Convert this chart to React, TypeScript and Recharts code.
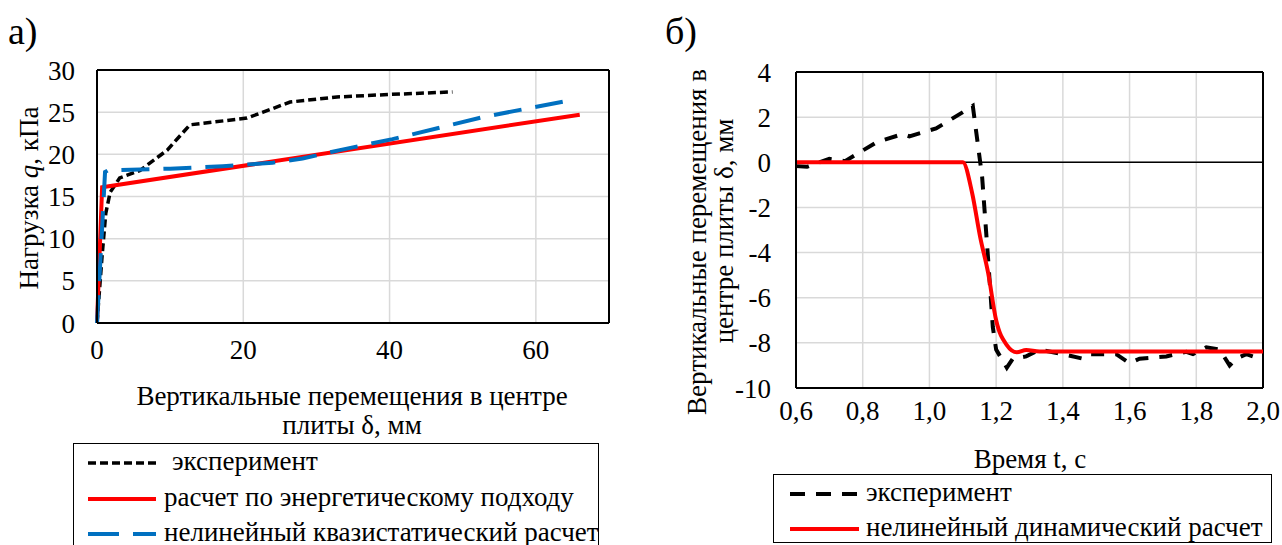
import React from 'react';
import { LineChart, Line, XAxis, YAxis, CartesianGrid, ReferenceLine, Legend } from 'recharts';

const FONT = '"Liberation Serif", "Times New Roman", serif';
const FS = 27;

// ---- Chart а) : load vs displacement ----
const loadTicks = [0, 5, 10, 15, 20, 25, 30];
const dispTicks = [0, 20, 40, 60];

const expDisp = [0, 0.7, 1.2, 1.8, 3.1, 5.9, 9.6, 12.7, 20.5, 22.7, 26.4, 32.8, 40, 48.6];
const expLoad = [0, 8, 13, 15.5, 17.2, 18.1, 20.5, 23.5, 24.3, 25, 26.2, 26.8, 27.1, 27.4];

const energyDisp = [0, 0.7, 66];
const energyLoad = [0, 16.1, 24.7];

const quasiDisp = [0, 0.5, 1.1, 1.5, 10, 17.2, 24, 28.1, 33.2, 40.4, 52.7, 64];
const quasiLoad = [0, 8, 17.9, 18.1, 18.3, 18.6, 19, 19.5, 20.5, 21.8, 24.4, 26.3];

const legendA = ['эксперимент', 'расчет по энергетическому подходу', 'нелинейный квазистатический расчет'];

// ---- Chart б) : displacement vs time ----
const timeTicks = [0.6, 0.8, 1.0, 1.2, 1.4, 1.6, 1.8, 2.0];
const deflTicks = [-10, -8, -6, -4, -2, 0, 2, 4];

const expTime = [0.6, 0.633, 0.7, 0.747, 0.843, 0.92, 0.94, 1.02, 1.098, 1.13, 1.158, 1.176, 1.19, 1.2, 1.232, 1.25, 1.29, 1.33, 1.4, 1.46, 1.48, 1.53, 1.56, 1.6, 1.63, 1.71, 1.77, 1.79, 1.83, 1.87, 1.9, 1.92, 1.95, 1.99];
const expDefl = [-0.17, -0.2, 0.15, 0.05, 0.9, 1.25, 1.15, 1.5, 2.2, 2.5, -0.65, -4.3, -7.3, -8.3, -9.1, -8.7, -8.6, -8.3, -8.5, -8.7, -8.5, -8.5, -8.5, -8.9, -8.7, -8.6, -8.4, -8.5, -8.2, -8.3, -9.0, -8.7, -8.5, -8.7];

const calcTime = [0.6, 1.0, 1.1, 1.128, 1.152, 1.176, 1.2, 1.232, 1.262, 1.29, 1.33, 2.0];
const calcDefl = [0, 0, 0, -1.36, -3.3, -4.9, -7.0, -8.1, -8.42, -8.32, -8.38, -8.38];

const legendB = ['эксперимент', 'нелинейный динамический расчет'];

const zip = (xs: number[], ys: number[]) => xs.map((x, i) => ({ x, y: ys[i] }));

const tickStyle = { fill: '#000', fontSize: FS, fontFamily: FONT, style: { fontFamily: FONT } };
const commaFmt = (v: number) => v.toFixed(1).replace('.', ',');

function LegendA() {
  const samples = [
    { stroke: '#000', dash: '8 4', w: 3.5 },
    { stroke: '#ff0000', dash: undefined, w: 4 },
    { stroke: '#0070c0', dash: '31 14', w: 4 },
  ];
  const rowsY = [20, 56, 91];
  const textX = [99, 91, 91];
  return (
    <div style={{ position: 'relative', width: 526, height: 112, border: '1.5px solid #000', boxSizing: 'border-box', background: '#fff' }}>
      <svg width={526} height={112} style={{ position: 'absolute', left: -1.5, top: -1.5 }}>
        {legendA.map((t, i) => (
          <g key={t}>
            <line x1={15} x2={83} y1={rowsY[i]} y2={rowsY[i]} stroke={samples[i].stroke} strokeWidth={samples[i].w} strokeDasharray={samples[i].dash} />
            <text x={textX[i]} y={rowsY[i] + 7} fontFamily={FONT} fontSize={FS} fill="#000">{t}</text>
          </g>
        ))}
      </svg>
    </div>
  );
}

function LegendB() {
  const samples = [
    { stroke: '#000', dash: '15 11', w: 4 },
    { stroke: '#ff0000', dash: undefined, w: 4 },
  ];
  const rowsY = [20, 55];
  return (
    <div style={{ position: 'relative', width: 499, height: 69, border: '1.5px solid #000', boxSizing: 'border-box', background: '#fff' }}>
      <svg width={499} height={69} style={{ position: 'absolute', left: -1.5, top: -1.5 }}>
        {legendB.map((t, i) => (
          <g key={t}>
            <line x1={17} x2={86} y1={rowsY[i]} y2={rowsY[i]} stroke={samples[i].stroke} strokeWidth={samples[i].w} strokeDasharray={samples[i].dash} />
            <text x={93} y={rowsY[i] + 7} fontFamily={FONT} fontSize={FS} fill="#000">{t}</text>
          </g>
        ))}
      </svg>
    </div>
  );
}

function ChartA() {
  return (
    <div style={{ position: 'absolute', left: 0, top: 0 }}>
      <LineChart width={640} height={545} margin={{ top: 70, right: 31, bottom: 182, left: 37 }}>
        <CartesianGrid stroke="#d9d9d9" strokeWidth={1.5} />
        <XAxis type="number" dataKey="x" domain={[0, 70]} ticks={dispTicks} height={40} interval={0}
          axisLine={{ stroke: '#000', strokeWidth: 2 }} tickLine={false} tickSize={0} tickMargin={17} tick={tickStyle} />
        <YAxis type="number" dataKey="y" domain={[0, 30]} ticks={loadTicks} width={60} interval={0}
          axisLine={{ stroke: '#000', strokeWidth: 2 }} tickLine={false} tickSize={0} tickMargin={22} tick={tickStyle} />
        <ReferenceLine y={30} stroke="#000" strokeWidth={2} />
        <ReferenceLine x={70} stroke="#000" strokeWidth={2} />
        <Line data={zip(expDisp, expLoad)} dataKey="y" type="linear" stroke="#000" strokeWidth={3.5} strokeDasharray="8 4" dot={false} isAnimationActive={false} />
        <Line data={zip(energyDisp, energyLoad)} dataKey="y" type="linear" stroke="#ff0000" strokeWidth={4} dot={false} isAnimationActive={false} />
        <Line data={zip(quasiDisp, quasiLoad)} dataKey="y" type="linear" stroke="#0070c0" strokeWidth={4} strokeDasharray="28 14" dot={false} isAnimationActive={false} />
        <Legend layout="vertical" align="center" verticalAlign="middle"
          wrapperStyle={{ left: 73, top: 443, width: 526, height: 112 }}
          content={() => <LegendA />} />
      </LineChart>
    </div>
  );
}

function ChartB() {
  return (
    <div style={{ position: 'absolute', left: 640, top: 0 }}>
      <LineChart width={642} height={545} margin={{ top: 72, right: 19, bottom: 117, left: 96 }}>
        <CartesianGrid stroke="#d9d9d9" strokeWidth={1.5} />
        <XAxis type="number" dataKey="x" domain={[0.6, 2.0]} ticks={timeTicks} height={40} interval={0} tickFormatter={commaFmt}
          axisLine={{ stroke: '#000', strokeWidth: 2 }} tickLine={false} tickSize={0} tickMargin={13} tick={tickStyle} />
        <YAxis type="number" dataKey="y" domain={[-10, 4]} ticks={deflTicks} width={60} interval={0}
          axisLine={{ stroke: '#000', strokeWidth: 2 }} tickLine={false} tickSize={0} tickMargin={25} tick={tickStyle} />
        <ReferenceLine y={4} stroke="#000" strokeWidth={2} />
        <ReferenceLine x={2.0} stroke="#000" strokeWidth={2} />
        <ReferenceLine y={0} stroke="#000" strokeWidth={1.5} />
        <Line data={zip(expTime, expDefl)} dataKey="y" type="linear" stroke="#000" strokeWidth={4} strokeDasharray="13 11" dot={false} isAnimationActive={false} />
        <Line data={zip(calcTime, calcDefl)} dataKey="y" type="monotone" stroke="#ff0000" strokeWidth={4} dot={false} isAnimationActive={false} />
        <Legend layout="vertical" align="center" verticalAlign="middle"
          wrapperStyle={{ left: 133, top: 474, width: 499, height: 69 }}
          content={() => <LegendB />} />
      </LineChart>
    </div>
  );
}

function Titles() {
  return (
    <svg width={1282} height={545} style={{ position: 'absolute', left: 0, top: 0, pointerEvents: 'none' }}>
      <g fontFamily={FONT} fill="#000">
        <text x={8} y={44} fontSize={38}>а)</text>
        <text x={665} y={44} fontSize={38}>б)</text>
        <text transform="rotate(-90)" x={-198} y={38} fontSize={FS} textAnchor="middle">
          Нагрузка <tspan fontStyle="italic">q</tspan>, кПа
        </text>
        <text x={352} y={405} fontSize={FS} textAnchor="middle">Вертикальные перемещения в центре</text>
        <text x={352} y={434} fontSize={FS} textAnchor="middle">плиты δ, мм</text>
        <text transform="rotate(-90)" x={-242} y={706} fontSize={FS} textAnchor="middle">Вертикальные перемещения в</text>
        <text transform="rotate(-90)" x={-231} y={733} fontSize={FS} textAnchor="middle">центре плиты δ, мм</text>
        <text x={1030} y={468} fontSize={FS} textAnchor="middle">Время t, с</text>
      </g>
    </svg>
  );
}

export default function App() {
  return (
    <div style={{ position: 'absolute', left: 0, top: 0, width: 1282, height: 545, background: '#fff', overflow: 'hidden', fontFamily: FONT }}>
      <ChartA />
      <ChartB />
      <Titles />
    </div>
  );
}
